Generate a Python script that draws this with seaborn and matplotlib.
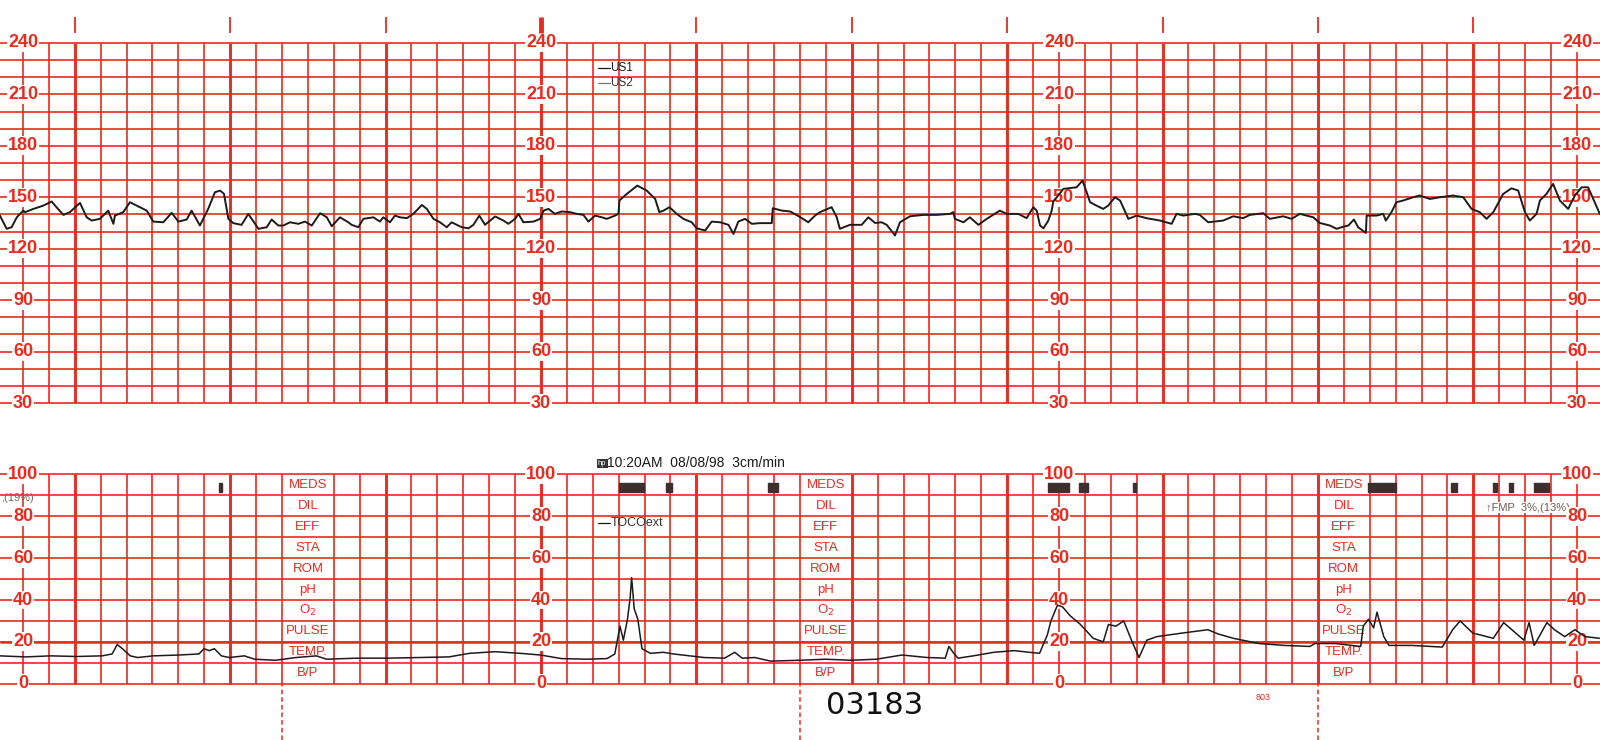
import numpy as np
import matplotlib
matplotlib.use("Agg")
import matplotlib.pyplot as plt
import seaborn as sns

# fetal heart rate trace, time in seconds (10 s per small square), bpm
fhr_t = [-8.9, -6.3, -4.4, -2.4, 0.1, 0.8, 4.0, 7.8, 11.1, 12.4, 15.6, 18.1, 22.0, 24.6, 26.5, 29.7,
         32.9, 34.9, 35.5, 38.7, 41.3, 43.9, 47.8, 50.3, 54.2, 57.4, 60.0, 63.2, 65.1, 68.3, 71.5, 74.1,
         76.1, 77.6, 79.3, 81.2, 84.4, 87.0, 90.9, 94.1, 96.0, 98.6, 100.5, 103.1, 106.3, 108.9, 111.5,
         114.7, 117.3, 119.2, 122.4, 125.6, 126.9, 129.5, 131.4, 135.3, 137.8, 139.1, 141.7, 143.6,
         145.6, 148.2, 150.7, 154.0, 155.9, 158.5, 161.0, 163.6, 165.5, 169.4, 172.0, 173.9, 176.2,
         178.4, 182.3, 185.5, 187.4, 190.0, 191.3, 193.2, 197.1, 199.7, 201.0, 202.9, 205.4, 208.0,
         211.2, 213.8, 216.4, 218.3, 220.9, 223.5, 225.4, 228.6, 229.9, 230.3, 233.1, 237.2, 240.8,
         244.1, 245.7, 247.3, 249.6, 252.4, 255.0, 258.2, 260.1, 263.4, 265.9, 269.2, 272.4, 274.3,
         276.2, 278.8, 281.4, 284.6, 289.1, 289.5, 293.0, 296.2,
         300.0, 303.2, 305.8, 307.7, 312.2, 314.2, 315.4, 319.3, 323.8, 326.4, 329.0, 331.5, 333.5,
         336.7, 338.6, 342.5, 347.6, 352.8, 357.9, 359.2, 359.8, 363.1, 365.6, 368.9, 372.1, 377.2,
         379.8, 384.3, 387.5, 390.1, 391.4, 392.7, 394.0, 395.9, 397.2, 397.8, 399.7, 401.7, 406.8,
         409.1, 410.7, 412.0, 414.5, 417.1, 419.0, 421.6, 423.6, 426.8, 430.0, 433.8, 439.0, 443.5,
         445.4, 448.0, 452.5,
         454.4, 457.6, 463.4, 467.3, 471.1, 473.7, 478.9, 481.4, 486.6, 489.8, 493.0, 498.2, 500.7,
         504.6, 507.2, 509.1, 511.7, 513.9, 515.5, 518.5, 518.8, 522.6, 525.2, 526.2, 528.4, 530.3,
         532.9, 536.8, 539.3, 543.2, 547.1, 552.2, 556.1, 559.3, 562.5, 565.1, 567.7, 571.5, 574.7,
         577.3, 579.9, 581.8, 584.4, 585.7, 588.2, 590.8, 593.4, 596.6, 599.2, 601.8, 604.3, 606.3, 608.8]
fhr_bpm = [139.3, 131.6, 132.5, 138.3, 142.2, 141.3, 143.2, 145.1, 147.5, 145.1, 139.7, 141.3, 146.7,
           138.3, 136.4, 137.4, 142.2, 134.5, 139.3, 141.3, 147.1, 145.1, 142.2, 135.8, 135.4, 140.9,
           135.8, 137.0, 142.2, 133.5, 143.2, 152.9, 153.9, 152.0, 137.4, 134.9, 133.9, 140.3, 131.6,
           132.5, 137.0, 133.5, 133.5, 135.4, 134.5, 135.8, 133.5, 140.7, 138.3, 133.1, 138.3, 135.4,
           133.9, 132.5, 137.4, 138.3, 135.8, 138.3, 135.4, 139.3,
           138.3, 137.8, 140.3, 145.5, 143.2, 137.4, 135.4, 132.5, 135.4, 132.5, 131.9, 133.9, 139.3,
           133.9, 138.8, 136.4, 134.5, 137.4, 140.3, 135.4, 135.8, 137.4, 142.2, 143.2, 140.3, 141.7,
           141.3, 140.3, 139.7, 135.8, 139.3, 138.3, 137.4, 139.3, 140.3, 148.1, 151.9, 156.8, 153.9,
           149.0, 141.3, 142.2, 144.2, 140.3, 137.4, 135.4, 131.9, 130.6, 135.8, 135.4, 133.9, 128.6,
           135.8, 137.4, 134.5, 134.9, 134.9, 143.6, 142.2, 141.7,
           138.5, 135.4, 139.3, 141.3, 144.2, 138.3, 131.6, 133.9, 133.9, 138.3, 135.0, 135.4, 133.9,
           127.7, 135.4, 138.9, 139.7, 139.7, 140.3, 141.3, 137.4, 135.4, 138.3, 133.9, 137.4, 142.2,
           140.3, 140.3, 137.8, 144.2, 142.2, 133.5, 131.9, 136.4, 142.2, 147.5, 151.0, 154.9, 155.8,
           159.7, 152.9, 147.1, 145.1, 143.2, 145.1, 150.0, 148.1, 137.4, 139.3, 137.8, 136.4, 134.5,
           140.3, 139.3, 140.3,
           139.7, 135.4, 136.4, 138.9, 137.8, 139.7, 140.7, 137.4, 138.9, 137.4, 140.3, 138.3, 135.0,
           133.5, 131.6, 132.5, 133.5, 137.0, 132.5, 129.2, 139.3, 139.3, 140.3, 136.4, 141.3, 147.1,
           148.1, 150.0, 151.0, 149.0, 150.0, 151.0, 150.0, 143.2, 141.3, 137.4, 141.3, 151.9, 155.2,
           153.9, 141.3, 136.4, 140.3, 148.1, 151.9, 157.8, 148.1, 143.2, 151.0, 155.8, 155.8, 149.0, 140.3]

# uterine activity (TOCOext)
toco_t = [-8.9, 1.0, 10.8, 20.7, 30.5, 34.4, 36.4, 38.4, 41.4, 44.3, 50.2, 60.1, 67.9, 69.9, 71.9,
          73.9, 76.6, 79.6, 85.5, 89.4, 97.5, 105.4, 113.3, 117.2, 129.0, 140.8, 152.7, 164.5, 172.3,
          182.2, 192.1, 199.9, 207.8, 217.6, 225.5, 228.5, 230.5, 231.8, 233.4, 234.4, 235.0, 236.0,
          237.4, 239.0, 242.3, 247.2, 251.2, 263.0, 270.9, 274.8, 277.7, 282.6, 288.6, 300.0, 309.8,
          319.7, 329.5, 339.4, 349.2, 356.1, 357.5, 359.1, 361.0, 366.9, 374.8, 382.7, 392.5, 394.1,
          395.5, 396.9, 399.4, 401.4, 404.3, 408.3, 413.2, 417.1, 419.1, 422.0, 425.0, 428.0, 430.9,
          433.9, 437.8, 447.6, 457.5, 461.4, 467.3, 477.2, 487.0, 496.9, 498.8, 506.7, 516.5, 517.5,
          519.5, 521.5, 522.8, 525.4, 527.4, 536.2, 548.0, 552.0, 554.9, 559.8, 567.7, 571.7, 575.6,
          579.5, 581.5, 583.5, 588.4, 591.3, 595.3, 599.2, 603.1, 608.7]
toco_val = [13.3, 12.8, 13.3, 13.0, 13.3, 14.2, 18.7, 16.7, 13.3, 12.5, 13.3, 13.7, 14.2, 16.7, 15.8,
            16.7, 13.3, 12.5, 13.3, 11.7, 11.2, 12.5, 13.3, 11.7, 12.2, 12.2, 12.5, 12.8, 14.5,
            15.3, 14.5, 13.7, 12.0, 11.7, 12.0, 14.2, 27.5, 20.8, 30.8, 40.8, 50.7, 35.8,
            30.8, 16.7, 14.5, 15.0, 14.2, 12.5, 12.2, 15.0, 12.2, 12.5, 10.8, 11.2, 11.7,
            11.2, 11.7, 13.7, 12.5, 12.2, 17.8, 15.0, 12.2, 13.3, 15.0, 15.8, 14.5, 19.2,
            23.3, 30.0, 37.5, 36.7, 32.5, 28.3, 21.7, 20.0, 28.3, 27.5, 30.0, 20.8, 12.5,
            20.8, 22.5, 24.2, 25.8, 23.8, 21.7, 19.2, 18.3, 17.8, 19.2, 19.2, 17.8, 27.5,
            30.8, 26.7, 34.2, 22.5, 18.3, 18.3, 17.5, 25.8, 30.0, 24.2, 21.7, 29.2, 25.0,
            20.8, 29.2, 18.3, 29.2, 25.8, 22.5, 25.8, 22.5, 21.7]

# fetal movement marks
fm_start = [75.5, 230.2, 248.4, 287.7, 395.7, 407.6, 428.5, 519.5, 551.2, 567.5, 573.6, 583.4]
fm_width = [1.5, 9.7, 2.1, 3.8, 8.0, 3.7, 1.4, 10.8, 2.5, 1.7, 1.8, 5.8]

fhr_labels = [240, 210, 180, 150, 120, 90, 60, 30]
toco_labels = [100, 80, 60, 40, 20, 0]
scale_cols = [0, 200, 400, 600]
meds_cols = [100, 300, 500]
meds_rows = ["MEDS", "DIL", "EFF", "STA", "ROM", "pH", "O$_2$", "PULSE", "TEMP.", "B/P"]
minute_marks = [20, 80, 140, 200, 260, 320, 380, 440, 500, 560]

RED = "#ec2a1e"
INK = "#1e1a1a"
NARROW = ["Liberation Sans Narrow", "Liberation Sans", "DejaVu Sans"]

sns.set_style("white")
plt.rcParams["font.family"] = ["Liberation Sans", "DejaVu Sans"]

fig = plt.figure(figsize=(16, 7.4), dpi=100)
ax1 = fig.add_axes([0, 0.4554, 1, 0.4866])
ax2 = fig.add_axes([0, 0.0761, 1, 0.2827])

grid_t = np.arange(0, 610, 10)

# top grid
ax1.hlines(np.arange(30, 241, 10), -8.88, 608.9, color=RED, lw=1.2, zorder=1, clip_on=False)
for t in grid_t:
    lw = 2.1 if (t - 20) % 60 == 0 else 1.2
    ax1.vlines(t, 30, 240, color=RED, lw=lw, zorder=1, clip_on=False)
for t in minute_marks:
    ax1.vlines(t, 246, 255, color=RED, lw=3.5 if t == 200 else 1.3, clip_on=False)

# bottom grid
ax2.hlines(np.arange(0, 101, 10), -8.88, 608.9, color=RED, lw=1.2, zorder=1, clip_on=False)
ax2.hlines(20, -8.88, 608.9, color=RED, lw=1.8, zorder=1, clip_on=False)
for t in grid_t:
    if t - 10 in meds_cols:
        continue
    lw = 2.1 if (t - 20) % 60 == 0 else 1.2
    ax2.vlines(t, 0, 100, color=RED, lw=lw, zorder=1, clip_on=False)
ax2.vlines(meds_cols, -27, 0, color=RED, lw=1.1, linestyles=(0, (3, 2)), clip_on=False)

# scale labels
for t in scale_cols:
    for v in fhr_labels:
        ax1.text(t, v, str(v), ha="center", va="center", color=RED, fontsize=13, fontweight="bold",
                 bbox=dict(fc="white", ec="none", pad=0.6), zorder=3, clip_on=False)
    for v in toco_labels:
        ax2.text(t, v, str(v), ha="center", va="center", color=RED, fontsize=13, fontweight="bold",
                 bbox=dict(fc="white", ec="none", pad=0.6), zorder=3, clip_on=False)

for t in meds_cols:
    for i, name in enumerate(meds_rows):
        ax2.text(t + 10, 95 - 10 * i, name, ha="center", va="center", color=RED, fontsize=9.5,
                 family=NARROW, zorder=3)

# traces
sns.lineplot(x=fhr_t, y=fhr_bpm, ax=ax1, estimator=None, sort=False, color=INK, lw=1.4, zorder=4)
sns.lineplot(x=toco_t, y=toco_val, ax=ax2, estimator=None, sort=False, color=INK, lw=1.1, zorder=4)
ax2.broken_barh(list(zip(fm_start, fm_width)), (91.5, 4.5), color="#3b302c", zorder=4)

# printed annotations
ax1.plot([222, 226.5], [225.4, 225.4], color=INK, lw=0.9)
ax1.text(226.8, 225.4, "US1", fontsize=8.5, family=NARROW, color=INK, va="center")
ax1.plot([222, 226.5], [216.7, 216.7], color="#777777", lw=0.9)
ax1.text(226.8, 216.7, "US2", fontsize=8.5, family=NARROW, color="#333333", va="center")

ax2.text(222, 105.3, "hp", fontsize=5.5, color="white", va="center", clip_on=False,
         bbox=dict(fc="#333333", ec="none", pad=0.8))
ax2.text(225.5, 105.3, "10:20AM  08/08/98  3cm/min", fontsize=10, family=NARROW, color=INK,
         va="center", clip_on=False)
ax2.plot([222, 226.5], [77, 77], color=INK, lw=0.9)
ax2.text(226.8, 77, "TOCOext", fontsize=9, family=NARROW, color="#333333", va="center")
ax2.text(329, -10.5, "03183", fontsize=22, family=["DejaVu Sans"], color="#111111",
         ha="center", va="center", clip_on=False)
ax2.text(479, -6.7, "803", fontsize=6.5, color=RED, ha="center", va="center", clip_on=False)
ax2.text(564.9, 84.2, "\u2191FMP  3%,(13%)", fontsize=8, family=["Liberation Sans", "DejaVu Sans"],
         color="#6f5a54", ha="left", va="center", zorder=2,
         bbox=dict(fc="white", ec="none", pad=0.3))
ax2.text(4, 88.6, ",(19%)", fontsize=8, family=NARROW, color="#7a6660", ha="right",
         va="center", zorder=2)

for ax, lo, hi in [(ax1, 30, 240), (ax2, 0, 100)]:
    ax.set_xlim(-8.88, 608.9)
    ax.set_ylim(lo, hi)
    ax.set_axis_off()

fig.savefig("out.png", dpi=100, facecolor="white")
